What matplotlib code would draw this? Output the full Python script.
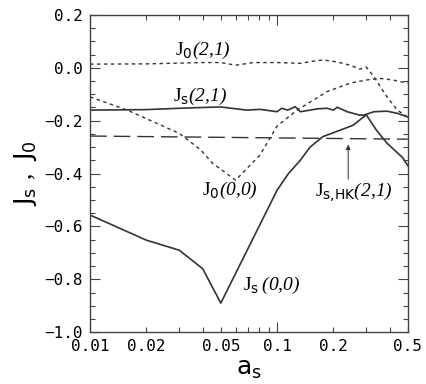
# Curvas J_s y J_0 frente a a_s
import matplotlib.pyplot as plt
from matplotlib.ticker import FixedLocator, FuncFormatter, MultipleLocator

plt.rcParams['mathtext.fontset'] = 'custom'
plt.rcParams['mathtext.rm'] = 'Liberation Serif'
plt.rcParams['mathtext.cal'] = 'Liberation Serif:italic'
plt.rcParams['mathtext.sf'] = 'DejaVu Sans'

# Datos
a_js00 = [0.01, 0.02, 0.03, 0.04, 0.05, 0.1, 0.115, 0.133, 0.15, 0.176, 0.217, 0.255, 0.29, 0.30, 0.34, 0.387, 0.47, 0.5]
js00 = [-0.557, -0.652, -0.69, -0.76, -0.89, -0.463, -0.40, -0.35, -0.30, -0.26, -0.236, -0.217, -0.186, -0.178, -0.236, -0.285, -0.34, -0.37]

a_js21 = [0.01, 0.02, 0.03, 0.04, 0.05, 0.069, 0.081, 0.1, 0.106, 0.114, 0.125, 0.133, 0.15, 0.165, 0.185, 0.2, 0.21, 0.237, 0.277, 0.29, 0.33, 0.387, 0.44, 0.5]
js21 = [-0.16, -0.158, -0.153, -0.15, -0.148, -0.16, -0.157, -0.166, -0.153, -0.16, -0.147, -0.166, -0.16, -0.155, -0.153, -0.16, -0.149, -0.166, -0.179, -0.179, -0.166, -0.164, -0.172, -0.186]

a_j021 = [0.01, 0.02, 0.04, 0.05, 0.06, 0.075, 0.1, 0.133, 0.156, 0.176, 0.21, 0.246, 0.277, 0.30, 0.33, 0.387, 0.44, 0.5]
j021 = [0.014, 0.015, 0.02, 0.02, 0.01, 0.02, 0.02, 0.017, 0.025, 0.03, 0.022, 0.01, -0.005, 0.003, -0.034, -0.11, -0.16, -0.187]

a_j000 = [0.01, 0.0158, 0.03, 0.039, 0.045, 0.06, 0.081, 0.1, 0.128, 0.185, 0.246, 0.30, 0.355, 0.417, 0.5]
j000 = [-0.11, -0.16, -0.248, -0.31, -0.36, -0.425, -0.33, -0.22, -0.16, -0.09, -0.058, -0.046, -0.04, -0.046, -0.058]

a_hk = [0.01, 0.5]
js_hk = [-0.258, -0.27]

xticks = [0.01, 0.02, 0.05, 0.1, 0.2, 0.5]
xlabels = ['0.01', '0.02', '0.05', '0.1', '0.2', '0.5']
yticks = [-1.0, -0.8, -0.6, -0.4, -0.2, 0.0, 0.2]

# Gráfico
fig = plt.figure(figsize=(4.27, 3.84), dpi=100)
ax = fig.add_axes([0.211, 0.135, 0.744, 0.826])

ax.plot(a_js00, js00, color='#333333', lw=1.2)
ax.plot(a_js21, js21, color='#333333', lw=1.2)
ax.plot(a_j021, j021, color='#333333', lw=1.0, ls=(0, (2.5, 2.5)))
ax.plot(a_j000, j000, color='#333333', lw=1.0, ls=(0, (2.5, 2.5)))
ax.plot(a_hk, js_hk, color='#333333', lw=1.0, ls=(0, (12, 5)))

ax.set_xscale('log')
ax.set_xlim(0.01, 0.5)
ax.set_ylim(-1.0, 0.2)

ax.xaxis.set_major_locator(FixedLocator([0.01, 0.1]))
ax.xaxis.set_minor_locator(FixedLocator([0.02, 0.03, 0.04, 0.05, 0.06, 0.07, 0.08, 0.09, 0.2, 0.3, 0.4, 0.5]))
lab = dict(zip(xticks, xlabels))
fmt = FuncFormatter(lambda v, p: lab.get(round(v, 3), ''))
ax.xaxis.set_major_formatter(fmt)
ax.xaxis.set_minor_formatter(fmt)

ax.set_yticks(yticks)
ax.yaxis.set_minor_locator(MultipleLocator(0.05))
ax.yaxis.set_major_formatter(FuncFormatter(lambda v, p: ('%.1f' % v).replace('-', '\u2212')))

ax.tick_params(which='both', direction='in', top=True, right=True, width=0.8,
               labelsize=11.5, labelfontfamily='DejaVu Sans Mono', color='#444444')
ax.tick_params(which='major', length=7, pad=5)
ax.tick_params(which='minor', length=3.5, pad=5)
for s in ax.spines.values():
    s.set_linewidth(1.0)
    s.set_color('#444444')

ax.set_xlabel(r'$\mathsf{a}_\mathsf{s}$', fontsize=18, labelpad=2)
ax.set_ylabel(r'$\mathsf{J}_\mathsf{s}\ ,\ \mathsf{J}_\mathsf{0}$', fontsize=18, labelpad=4)

# Etiquetas de las curvas
ax.text(0.0285, 0.067, r'$\mathrm{J}_\mathsf{0}\mathcal{(2{,}1)}$', fontsize=14, va='center')
ax.text(0.0278, -0.11, r'$\mathrm{J}_\mathsf{s}\mathcal{(2{,}1)}$', fontsize=14, va='center')
ax.text(0.0397, -0.463, r'$\mathrm{J}_\mathsf{0}\mathcal{(0{,}0)}$', fontsize=14, va='center')
ax.text(0.0658, -0.823, r'$\mathrm{J}_\mathsf{s}\,\mathcal{(0{,}0)}$', fontsize=14, va='center')
ax.text(0.16, -0.47, r'$\mathrm{J}_\mathsf{s{,}HK}\mathcal{(2{,}1)}$', fontsize=14, va='center')
ax.annotate('', xy=(0.24, -0.28), xytext=(0.24, -0.432),
            arrowprops=dict(arrowstyle='-|>', color='#333333', lw=0.7, mutation_scale=7))

fig.savefig('out.png', dpi=100)
